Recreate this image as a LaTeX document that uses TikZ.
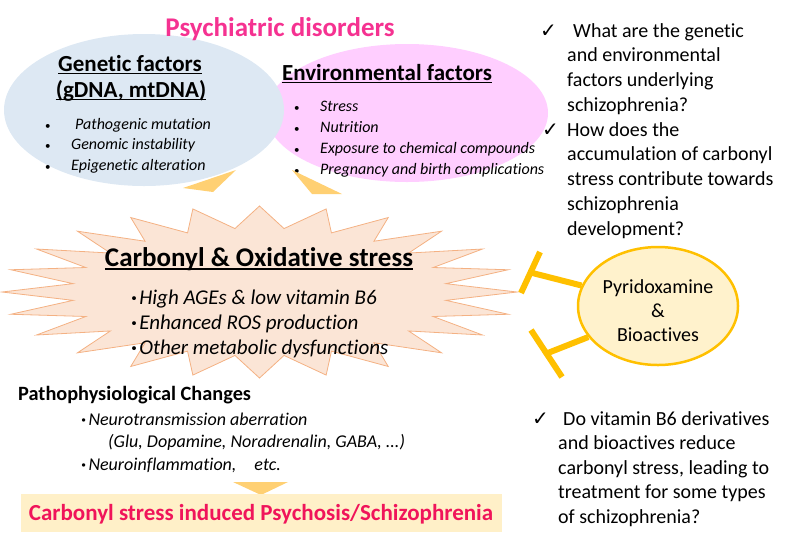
\documentclass[tikz,border=0pt]{standalone}
\usepackage{fontspec}
\setmainfont{Carlito}[Ligatures=NoCommon]
\newfontfamily\dejavu{DejaVu Sans}
\usetikzlibrary{shapes.geometric}
\definecolor{titlepink}{RGB}{245,50,145}
\definecolor{bluefill}{RGB}{221,232,243}
\definecolor{pinkfill}{RGB}{255,206,255}
\definecolor{wedgecol}{RGB}{255,208,115}
\definecolor{starfill}{RGB}{251,229,214}
\definecolor{starline}{RGB}{244,177,131}
\definecolor{pyrfill}{RGB}{255,242,204}
\definecolor{gold}{RGB}{255,192,0}
\definecolor{boxfill}{RGB}{255,240,200}
\definecolor{redpink}{RGB}{240,20,90}
\newcommand\fs[2]{\fontsize{#1}{#2}\selectfont}
\newcommand\kdot{{\bfseries ·}\hspace{2.5pt}}
\begin{document}
\begin{tikzpicture}[x=1pt,y=-1pt,
  lt/.style={inner sep=0pt, anchor=base west},
  ct/.style={inner sep=0pt, anchor=base},
  qtext/.style={lt, font=\fs{20}{24}},
  chk/.style={lt, font=\dejavu\fs{20}{22}},
  bul/.style={lt, font=\fs{11}{14}},
  itl/.style={lt, font=\itshape\fs{16}{19}},
  sitl/.style={lt, font=\itshape\fs{21}{25}},
  pitl/.style={lt, font=\itshape\fs{18}{21}},
  head/.style={ct, font=\bfseries\fs{23}{27}},
  ul/.style={line width=1.2pt},
  wedge/.style={fill=wedgecol},
  tbar/.style={draw=gold, line width=6pt},
]
\useasboundingbox (0,0) rectangle (800,542);

% ellipses
\node[ellipse, fill=pinkfill, minimum width=282pt, minimum height=138pt, inner sep=0pt] (env) at (407,113) {};
\node[ellipse, fill=bluefill, minimum width=280pt, minimum height=152pt, inner sep=0pt] (gen) at (144,110) {};

% title
\node[ct, font=\bfseries\fs{27}{30}, text=titlepink] (title) at (280,36) {Psychiatric disorders};

% genetic
\node[head] (genh1) at (130,71) {Genetic factors};
\node[head] (genh2) at (131,97) {(gDNA, mtDNA)};
\draw[ul] ([yshift=-2.5pt]genh1.base west) -- ([yshift=-2.5pt]genh1.base east);
\draw[ul] ([yshift=-2.5pt]genh2.base west) -- ([yshift=-2.5pt]genh2.base east);
\node[bul] (gb1) at (45,129) {•};
\node[bul] (gb2) at (45,149) {•};
\node[bul] (gb3) at (45,170) {•};
\node[itl] (gt1) at (75,129) {Pathogenic mutation};
\node[itl] (gt2) at (71,149) {Genomic instability};
\node[itl] (gt3) at (71,170) {Epigenetic alteration};

% environmental
\node[head] (envh) at (387,80) {Environmental factors};
\draw[ul] ([yshift=-2.5pt]envh.base west) -- ([yshift=-2.5pt]envh.base east);
\node[bul] (eb1) at (294,111) {•};
\node[bul] (eb2) at (294,132) {•};
\node[bul] (eb3) at (294,153) {•};
\node[bul] (eb4) at (294,174) {•};
\node[itl] (et1) at (320,111) {Stress};
\node[itl] (et2) at (320,132) {Nutrition};
\node[itl] (et3) at (320,153) {Exposure to chemical compounds};
\node[itl] (et4) at (320,174) {Pregnancy and birth complications};

% wedges
\fill[wedge] (236,170) -- (183,188) -- (213,192) -- cycle;
\fill[wedge] (292,170) -- (312,194) -- (342,194) -- cycle;

% starburst
\draw[fill=starfill, draw=starline, line width=0.8pt]
  (259.5,206) \foreach \i in {0,...,23} {
    -- ({259.5+188*cos(97.5+15*\i)}, {292-64*sin(97.5+15*\i)})
    -- ({259.5+257.5*cos(105+15*\i)}, {292-86*sin(105+15*\i)})
  } -- cycle;

\node[ct, font=\bfseries\fs{27}{31}] (cos) at (259,266) {Carbonyl \& Oxidative stress};
\draw[line width=1.5pt] ([yshift=-3pt]cos.base west) -- ([yshift=-3pt]cos.base east);
\node[sitl] (cs1) at (131,304) {\kdot High AGEs \& low vitamin B6};
\node[sitl] (cs2) at (131,329) {\kdot Enhanced ROS production};
\node[sitl] (cs3) at (131,354) {\kdot Other metabolic dysfunctions};

% pyridoxamine
\node[ellipse, draw=gold, line width=2.5pt, fill=pyrfill, minimum width=160pt, minimum height=118pt,
  inner sep=0pt] (pyr) at (658,306) {};
\node[inner sep=0pt, align=center, font=\fs{20}{24}] (pyrtxt) at (658,311) {Pyridoxamine\\\&\\Bioactives};
\coordinate (t1) at (530.5,272.5);
\coordinate (t1a) at (540,252);
\coordinate (t1b) at (521,293);
\coordinate (t2) at (546.5,353.5);
\coordinate (t2a) at (531,330);
\coordinate (t2b) at (562,377);
\draw[tbar] (pyr.165) -- (t1);
\draw[tbar] (t1a) -- (t1b);
\draw[tbar] (pyr.204) -- (t2);
\draw[tbar] (t2a) -- (t2b);

% questions upper right
\node[chk] (c1) at (540,37) {✓};
\node[qtext] (q1) at (573,37) {What are the genetic};
\node[qtext] (q2) at (567,61.75) {and environmental};
\node[qtext] (q3) at (567,86.5) {factors underlying};
\node[qtext] (q4) at (567,111.25) {schizophrenia?};
\node[chk] (c2) at (542,136) {✓};
\node[qtext] (q5) at (567,136) {How does the};
\node[qtext] (q6) at (567,160.75) {accumulation of carbonyl};
\node[qtext] (q7) at (567,185.5) {stress contribute towards};
\node[qtext] (q8) at (567,210.25) {schizophrenia};
\node[qtext] (q9) at (567,235) {development?};

% question lower right
\node[chk] (c3) at (532,425) {✓};
\node[qtext] (r1) at (563,425) {Do vitamin B6 derivatives};
\node[qtext] (r2) at (558,449.5) {and bioactives reduce};
\node[qtext] (r3) at (558,474) {carbonyl stress, leading to};
\node[qtext] (r4) at (558,498.5) {treatment for some types};
\node[qtext] (r5) at (558,523) {of schizophrenia?};

% pathophysiological
\node[lt, font=\bfseries\fs{20.3}{24}] (patho) at (18,400) {Pathophysiological Changes};
\node[pitl] (p1) at (81,425) {\kdot Neurotransmission aberration};
\node[pitl] (p2) at (108,447) {(Glu, Dopamine, Noradrenalin, GABA, ...)};
\node[pitl] (p3) at (81,470) {\kdot Neuroinflammation,\hspace{1em}etc.};

% down triangle and box
\fill[wedge] (233,482) -- (288,482) -- (261,495) -- cycle;
\node[fill=boxfill, minimum width=481pt, minimum height=38pt, inner sep=0pt] (box) at (261.5,513) {};
\node[ct, font=\bfseries\fs{23}{27}, text=redpink] (boxtext) at (261,520) {Carbonyl stress induced Psychosis/Schizophrenia};
\end{tikzpicture}
\end{document}
